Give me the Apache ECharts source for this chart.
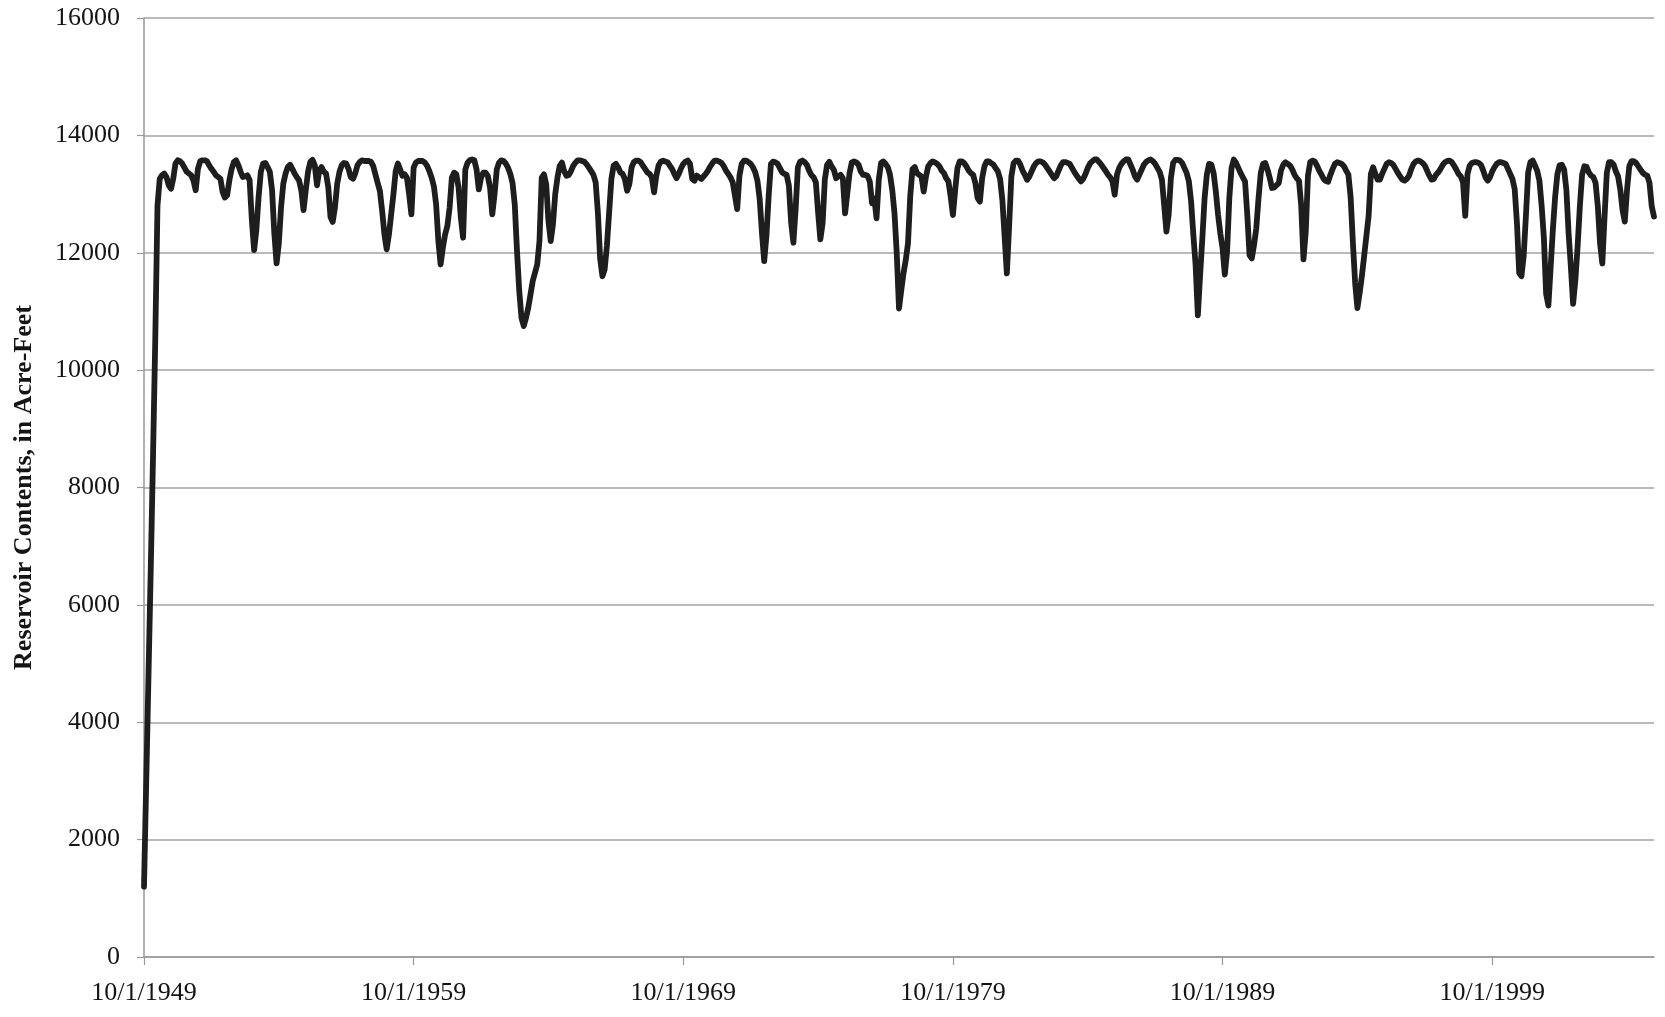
<!DOCTYPE html>
<html>
<head>
<meta charset="utf-8">
<script src="https://cdn.jsdelivr.net/npm/echarts/dist/echarts.min.js"></script>
<style>
html,body{margin:0;padding:0;background:#ffffff;}
#chart{width:1665px;height:1017px;}
</style>
</head>
<body>
<div id="chart"></div>
<script>
// Monthly reservoir contents (acre-feet), water years Oct-Sep, starting 10/1/1949
const wy1950s = [
  1200, 3000, 4800, 6600, 8500, 10500, 12800, 13260, 13320, 13350, 13290, 13150,
  13090, 13260, 13520, 13575, 13560, 13520, 13450, 13380, 13350, 13320, 13235, 13065,
  13430, 13560, 13575, 13575, 13560, 13490, 13430, 13380, 13320, 13290, 13260, 13035,
  12940, 12980, 13235, 13430, 13545, 13575, 13490, 13380, 13290, 13300, 13320, 13235,
  12555, 12045, 12385, 12950, 13380, 13520, 13530, 13460, 13380, 13065, 12330, 11820,
  12160, 12780, 13180, 13350, 13460, 13500, 13430, 13350, 13290, 13235, 13065, 12725,
  13065, 13380, 13545, 13585, 13490, 13150, 13405, 13460, 13380, 13350, 13120, 12610,
  12525, 12780, 13180, 13380, 13490, 13530, 13520, 13430, 13290, 13260, 13350, 13490,
  13545, 13575, 13563, 13563, 13563, 13550, 13480, 13335, 13190, 13050, 12710, 12310,
  12057, 12310, 12654, 12995, 13390, 13520, 13420, 13310, 13335, 13280, 12995, 12654
];
const wy1960s = [
  13450, 13535, 13563, 13563, 13563, 13535, 13480, 13390, 13280, 13135, 12825, 12200,
  11800, 12085, 12310, 12455, 12767, 13280, 13365, 13335, 13110, 12600, 12256, 13420,
  13535, 13575, 13590, 13575, 13420, 13080, 13280, 13365, 13365, 13310, 13110, 12654,
  12995, 13420, 13535, 13575, 13563, 13520, 13450, 13345, 13190, 12825, 12030, 11347,
  10890, 10750, 10890, 11060, 11290, 11520, 11660, 11800, 12200, 13280, 13335, 13165,
  12540, 12200, 12483, 12995, 13280, 13480, 13535, 13390, 13310, 13325, 13390, 13480,
  13535, 13575, 13575, 13563, 13550, 13505, 13450, 13390, 13330, 13200, 12680, 11900,
  11600, 11714, 12114, 12686, 13257, 13486, 13514, 13457, 13371, 13343, 13257, 13057,
  13171, 13457, 13543, 13571, 13571, 13543, 13486, 13429, 13371, 13343, 13286, 13029,
  13314, 13486, 13554, 13571, 13554, 13543, 13486, 13429, 13343, 13270, 13343, 13440
];
const wy1970s = [
  13514, 13554, 13571, 13514, 13257, 13228, 13314, 13286, 13257, 13300, 13343, 13400,
  13470, 13530, 13571, 13571, 13554, 13530, 13475, 13400, 13343, 13286, 13200, 12970,
  12743, 13314, 13514, 13571, 13571, 13543, 13514, 13457, 13371, 13228, 12914, 12343,
  11857, 12286, 12971, 13514, 13554, 13543, 13514, 13440, 13371, 13343, 13325, 13143,
  12514, 12171, 12743, 13457, 13554, 13571, 13543, 13497, 13400, 13325, 13286, 13200,
  12686, 12229, 12500, 13250, 13500, 13550, 13470, 13413, 13270, 13299, 13328, 13270,
  12672, 13014, 13356, 13540, 13556, 13540, 13500, 13385, 13328, 13328, 13310, 13214,
  12843, 12929, 12587, 13242, 13527, 13556, 13515, 13460, 13328, 13070, 12672, 11989,
  11050, 11360, 11647, 11875, 12160, 12957, 13425, 13460, 13356, 13328, 13299, 13043,
  13299, 13470, 13527, 13556, 13540, 13515, 13470, 13400, 13356, 13270, 13214, 12957
];
const wy1980s = [
  12643, 13070, 13442, 13556, 13556, 13527, 13470, 13400, 13356, 13328, 13185, 12929,
  12872, 13270, 13470, 13556, 13556, 13527, 13500, 13442, 13385, 13254, 12900, 12275,
  11647, 12444, 13299, 13527, 13570, 13570, 13500, 13400, 13328, 13242, 13299, 13385,
  13470, 13527, 13556, 13556, 13540, 13500, 13442, 13385, 13328, 13270, 13303, 13400,
  13490, 13545, 13545, 13531, 13514, 13446, 13377, 13320, 13263, 13217, 13263, 13343,
  13446, 13520, 13560, 13589, 13589, 13548, 13503, 13446, 13389, 13331, 13286, 13217,
  12989, 13331, 13446, 13514, 13560, 13589, 13589, 13503, 13417, 13303, 13246, 13331,
  13417, 13503, 13548, 13577, 13589, 13560, 13514, 13446, 13377, 13246, 12817, 12360,
  12646, 13274, 13531, 13583, 13583, 13571, 13531, 13446, 13360, 13217, 12874, 12303,
  11789, 10932, 11617, 12246, 12931, 13331, 13514, 13503, 13360, 13046, 12646, 12331
];
const wy1990s = [
  12074, 11629, 12017, 12931, 13446, 13589, 13531, 13446, 13360, 13286, 13217, 12646,
  11960, 11903, 12131, 12417, 12931, 13360, 13514, 13531, 13417, 13274, 13103, 13114,
  13150, 13189, 13400, 13500, 13540, 13514, 13486, 13420, 13330, 13270, 13229, 12800,
  11886, 12343, 13314, 13543, 13571, 13557, 13486, 13400, 13330, 13257, 13223, 13210,
  13330, 13429, 13514, 13543, 13530, 13514, 13475, 13400, 13330, 12943, 12171, 11486,
  11057, 11314, 11600, 11943, 12286, 12629, 13343, 13457, 13343, 13246, 13246, 13343,
  13429, 13514, 13543, 13530, 13497, 13429, 13360, 13303, 13246, 13229, 13257, 13314,
  13429, 13514, 13557, 13571, 13560, 13530, 13486, 13400, 13314, 13246, 13257, 13330,
  13371, 13429, 13497, 13543, 13565, 13571, 13543, 13486, 13418, 13343, 13303, 13200,
  12629, 13343, 13486, 13530, 13543, 13543, 13530, 13497, 13400, 13286, 13229, 13286
];
const wy2000s = [
  13385, 13457, 13514, 13543, 13543, 13530, 13514, 13429, 13343, 13257, 13086, 12514,
  11657, 11600, 11943, 12629, 13371, 13543, 13571, 13486, 13400, 13229, 12800, 12250,
  11300, 11100, 11750, 12400, 12950, 13340, 13490, 13500, 13420, 13074, 12331, 11760,
  11131, 11531, 12103, 12789, 13331, 13474, 13463, 13371, 13314, 13291, 13189, 12789,
  12160, 11817, 12617, 13360, 13543, 13543, 13503, 13389, 13303, 13074, 12731, 12531,
  13074, 13474, 13560, 13560, 13531, 13474, 13417, 13360, 13331, 13314, 13189, 12789,
  12617
];
const yTickValues = [0, 2000, 4000, 6000, 8000, 10000, 12000, 14000, 16000];
const yTitle = 'Reservoir Contents, in Acre-Feet';

const contents = [].concat(wy1950s, wy1960s, wy1970s, wy1980s, wy1990s, wy2000s);
const months = contents.map(function (v, i) {
  const k = 9 + i;
  return ((k % 12) + 1) + '/1/' + (1949 + Math.floor(k / 12));
});

const chart = echarts.init(document.getElementById('chart'), null, {renderer: 'canvas'});
const font = "'Liberation Serif', 'Times New Roman', serif";
chart.setOption({
  backgroundColor: '#ffffff',
  animation: false,
  grid: {left: 144, right: 11, top: 18, bottom: 60, containLabel: false},
  xAxis: {
    type: 'category',
    data: months,
    boundaryGap: false,
    axisLine: {show: true, lineStyle: {color: '#999999', width: 1.5}},
    axisTick: {show: true, interval: 119, length: 8, lineStyle: {color: '#999999', width: 1.2}},
    axisLabel: {interval: 119, margin: 23, color: '#141414', fontFamily: font, fontSize: 26},
    splitLine: {show: false}
  },
  yAxis: {
    type: 'value',
    min: yTickValues[0],
    max: yTickValues[yTickValues.length - 1],
    interval: 2000,
    name: yTitle,
    nameLocation: 'middle',
    nameGap: 107,
    nameTextStyle: {color: '#141414', fontFamily: font, fontSize: 26, fontWeight: 'bold'},
    axisLine: {show: true, lineStyle: {color: '#999999', width: 1.5}},
    axisTick: {show: true, inside: false, length: 7, lineStyle: {color: '#999999', width: 1.2}},
    axisLabel: {margin: 24, color: '#141414', fontFamily: font, fontSize: 26,
      formatter: function (v) { return String(v); }},
    splitLine: {show: true, lineStyle: {color: '#a3a3a3', width: 1.5}}
  },
  series: [{
    type: 'line',
    data: contents,
    showSymbol: false,
    smooth: false,
    lineStyle: {color: '#1e1e1e', width: 5.8, cap: 'round', join: 'round'},
    z: 3
  }]
});
</script>
</body>
</html>
